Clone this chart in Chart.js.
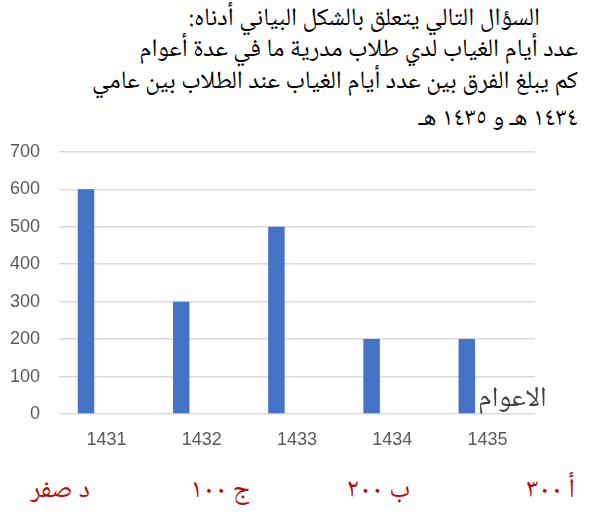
<!DOCTYPE html>
<html>
<head>
<meta charset="utf-8">
<script src="https://cdn.jsdelivr.net/npm/chart.js@4/dist/chart.umd.min.js"></script>
<style>
  html, body { margin: 0; padding: 0; background: #fff; }
  body { width: 606px; height: 520px; position: relative; overflow: hidden; }
  .ar { position: absolute; direction: rtl; white-space: nowrap; line-height: 30px;
        font-family: "Noto Naskh Arabic", "Noto Sans Arabic", "DejaVu Sans", sans-serif; }
  .q { color: #000; font-size: 25px; right: 28px; }
  .ans { color: #b01010; font-size: 27px; top: 476px; }
  #wrap { position: absolute; left: 0; top: 122px; width: 606px; height: 338px; }
  #axisName { position: absolute; left: 478px; top: 385px; font-size: 28px; color: #404040; }
</style>
</head>
<body>
<div class="ar q" style="top:5px; right:66px;">السؤال التالي يتعلق بالشكل البياني أدناه:</div>
<div class="ar q" style="top:36px;">عدد أيام الغياب لدي طلاب مدرية ما في عدة أعوام</div>
<div class="ar q" style="top:68px;">كم يبلغ الفرق بين عدد أيام الغياب عند الطلاب بين عامي</div>
<div class="ar q" style="top:105px;">١٤٣٤ هـ و ١٤٣٥ هـ</div>

<div id="wrap"><canvas id="c" width="606" height="338"></canvas></div>
<div class="ar" id="axisName">الاعوام</div>

<div class="ar ans" style="right:31px;">أ ٣٠٠</div>
<div class="ar ans" style="right:196px;">ب ٢٠٠</div>
<div class="ar ans" style="right:356px;">ج ١٠٠</div>
<div class="ar ans" style="right:516px;">د صفر</div>

<script>
const years = ["1431", "1432", "1433", "1434", "1435"];
const absenceDays = [600, 300, 500, 200, 200];
const emptySeries = [null, null, null, null, null];
const yTicks = [0, 100, 200, 300, 400, 500, 600, 700];

new Chart(document.getElementById('c'), {
  type: 'bar',
  data: {
    labels: years,
    datasets: [
      { data: absenceDays, backgroundColor: '#4472c4', borderWidth: 0,
        categoryPercentage: 0.865, barPercentage: 0.4 },
      { data: emptySeries, backgroundColor: '#ed7d31', borderWidth: 0,
        categoryPercentage: 0.865, barPercentage: 0.4 }
    ]
  },
  options: {
    responsive: false,
    animation: false,
    layout: { padding: { left: 0, right: 71, top: 0, bottom: 0 } },
    plugins: { legend: { display: false }, tooltip: { enabled: false } },
    scales: {
      x: {
        grid: { display: false, drawTicks: false },
        border: { display: false },
        ticks: { color: '#595959', font: { family: 'Liberation Sans', size: 18 }, padding: 15 },
        afterFit: s => { s.height = 46; }
      },
      y: {
        min: 0, max: 700,
        afterBuildTicks: s => { s.ticks = yTicks.map(v => ({ value: v })); },
        grid: { color: '#d9d9d9', lineWidth: 1.5, drawTicks: false },
        border: { display: false },
        ticks: { color: '#595959', font: { family: 'Liberation Sans', size: 18 }, padding: 19 },
        afterFit: s => { s.width = 59; }
      }
    }
  }
});
</script>
</body>
</html>
